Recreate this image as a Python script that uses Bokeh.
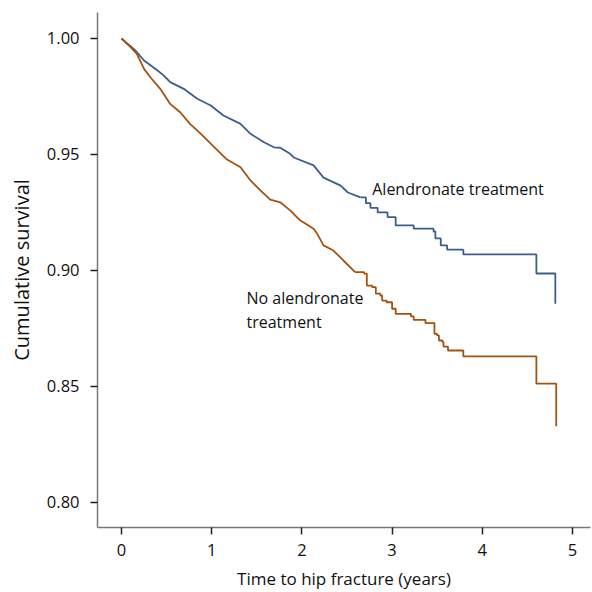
from bokeh.plotting import figure
from bokeh.models import Range1d, FixedTicker, Label, CustomJSTickFormatter
from bokeh.embed import file_html
from bokeh.resources import INLINE

# Alendronate treatment (time in years, cumulative survival)
alen_t = [0.00, 0.06, 0.155, 0.25, 0.40, 0.47, 0.54, 0.69, 0.84, 0.99, 1.13, 1.32, 1.43,
          1.58, 1.69, 1.76, 1.87, 1.91, 2.13, 2.24, 2.43, 2.51, 2.65, 2.71, 2.76, 2.84,
          2.95, 3.04, 3.24, 3.46, 3.48, 3.54, 3.61, 3.79, 4.60, 4.81, 4.81]
alen_s = [1.000, 0.998, 0.9948, 0.9905, 0.9862, 0.984, 0.9812, 0.9783, 0.974, 0.9711,
          0.9668, 0.9632, 0.9589, 0.9553, 0.9531, 0.9529, 0.9503, 0.9487, 0.9453, 0.940,
          0.9366, 0.9336, 0.9315, 0.929, 0.927, 0.925, 0.923, 0.9194, 0.918, 0.9168,
          0.9138, 0.9108, 0.909, 0.9069, 0.8987, 0.8857, 0.8857]

# No alendronate treatment
noal_t = [0.00, 0.10, 0.17, 0.25, 0.32, 0.43, 0.54, 0.65, 0.76, 0.88, 1.02, 1.17, 1.32,
          1.43, 1.54, 1.65, 1.76, 1.87, 1.98, 2.13, 2.17, 2.24, 2.35, 2.46, 2.59, 2.69,
          2.72, 2.78, 2.82, 2.87, 2.89, 2.94, 3.00, 3.04, 3.21, 3.24, 3.37, 3.47, 3.50,
          3.52, 3.56, 3.57, 3.62, 3.79, 4.60, 4.82, 4.82]
noal_s = [1.000, 0.9963, 0.9934, 0.9869, 0.9833, 0.9783, 0.9718, 0.9682, 0.9632, 0.9589,
          0.9535, 0.9478, 0.9445, 0.9388, 0.9345, 0.9305, 0.9294, 0.9259, 0.9216, 0.918,
          0.9158, 0.9108, 0.9086, 0.9043, 0.8993, 0.8986, 0.8935, 0.8928, 0.890, 0.8892,
          0.887, 0.8863, 0.8835, 0.8813, 0.8802, 0.8787, 0.8773, 0.8727, 0.872, 0.8698,
          0.8691, 0.8672, 0.8655, 0.863, 0.8512, 0.8328, 0.8328]

x_ticks = [0, 1, 2, 3, 4, 5]
y_ticks = [0.80, 0.85, 0.90, 0.95, 1.00]

FONT = "Open Sans"
BLUE = "#3b5e8c"
ORANGE = "#a5520f"
TXT = "#111111"

p = figure(width=592, height=592, output_backend="svg", toolbar_location=None,
           x_range=Range1d(-0.266, 5.20), y_range=Range1d(0.7892, 1.0112),
           min_border_left=97, min_border_right=2, min_border_top=12, min_border_bottom=64)
p.outline_line_color = None
p.grid.visible = False
p.background_fill_color = "white"

# densely stepped early part drawn as a fine path, sparse later part as steps
ka = alen_t.index(2.65)
kn = noal_t.index(2.59)
for t, s, k, c in ((alen_t, alen_s, ka, BLUE), (noal_t, noal_s, kn, ORANGE)):
    p.line(t[:k + 1], s[:k + 1], line_color=c, line_width=1.8)
    p.step(t[k:], s[k:], mode="after", line_color=c, line_width=1.8)

for ax in (p.xaxis, p.yaxis):
    ax.axis_line_color = "#777777"
    ax.axis_line_width = 1.5
    ax.major_tick_line_color = "#222222"
    ax.major_tick_line_width = 1.5
    ax.major_tick_in = 0
    ax.major_tick_out = 7
    ax.minor_tick_line_color = None
    ax.major_label_text_font = FONT
    ax.major_label_text_font_size = "16.5px"
    ax.major_label_text_color = TXT
    ax.axis_label_text_font = FONT
    ax.axis_label_text_font_style = "normal"
    ax.axis_label_text_color = TXT

p.xaxis.ticker = FixedTicker(ticks=x_ticks)
p.yaxis.ticker = FixedTicker(ticks=y_ticks)
p.yaxis.formatter = CustomJSTickFormatter(code="return tick.toFixed(2);")
p.xaxis.axis_label = "Time to hip fracture (years)"
p.yaxis.axis_label = "Cumulative survival"
p.xaxis.axis_label_text_font_size = "17px"
p.yaxis.axis_label_text_font_size = "20px"
p.xaxis.major_label_standoff = 9
p.yaxis.major_label_standoff = 11
p.xaxis.axis_label_standoff = 8
p.yaxis.axis_label_standoff = 9

p.add_layout(Label(x=2.78, y=0.9353, text="Alendronate treatment", text_font=FONT,
                   text_font_size="16px", text_baseline="middle", text_color=TXT))
p.add_layout(Label(x=1.386, y=0.888, text="No alendronate", text_font=FONT,
                   text_font_size="16px", text_baseline="middle", text_color=TXT))
p.add_layout(Label(x=1.386, y=0.8776, text="treatment", text_font=FONT,
                   text_font_size="16px", text_baseline="middle", text_color=TXT))

open("out.html", "w").write(file_html(p, INLINE))
